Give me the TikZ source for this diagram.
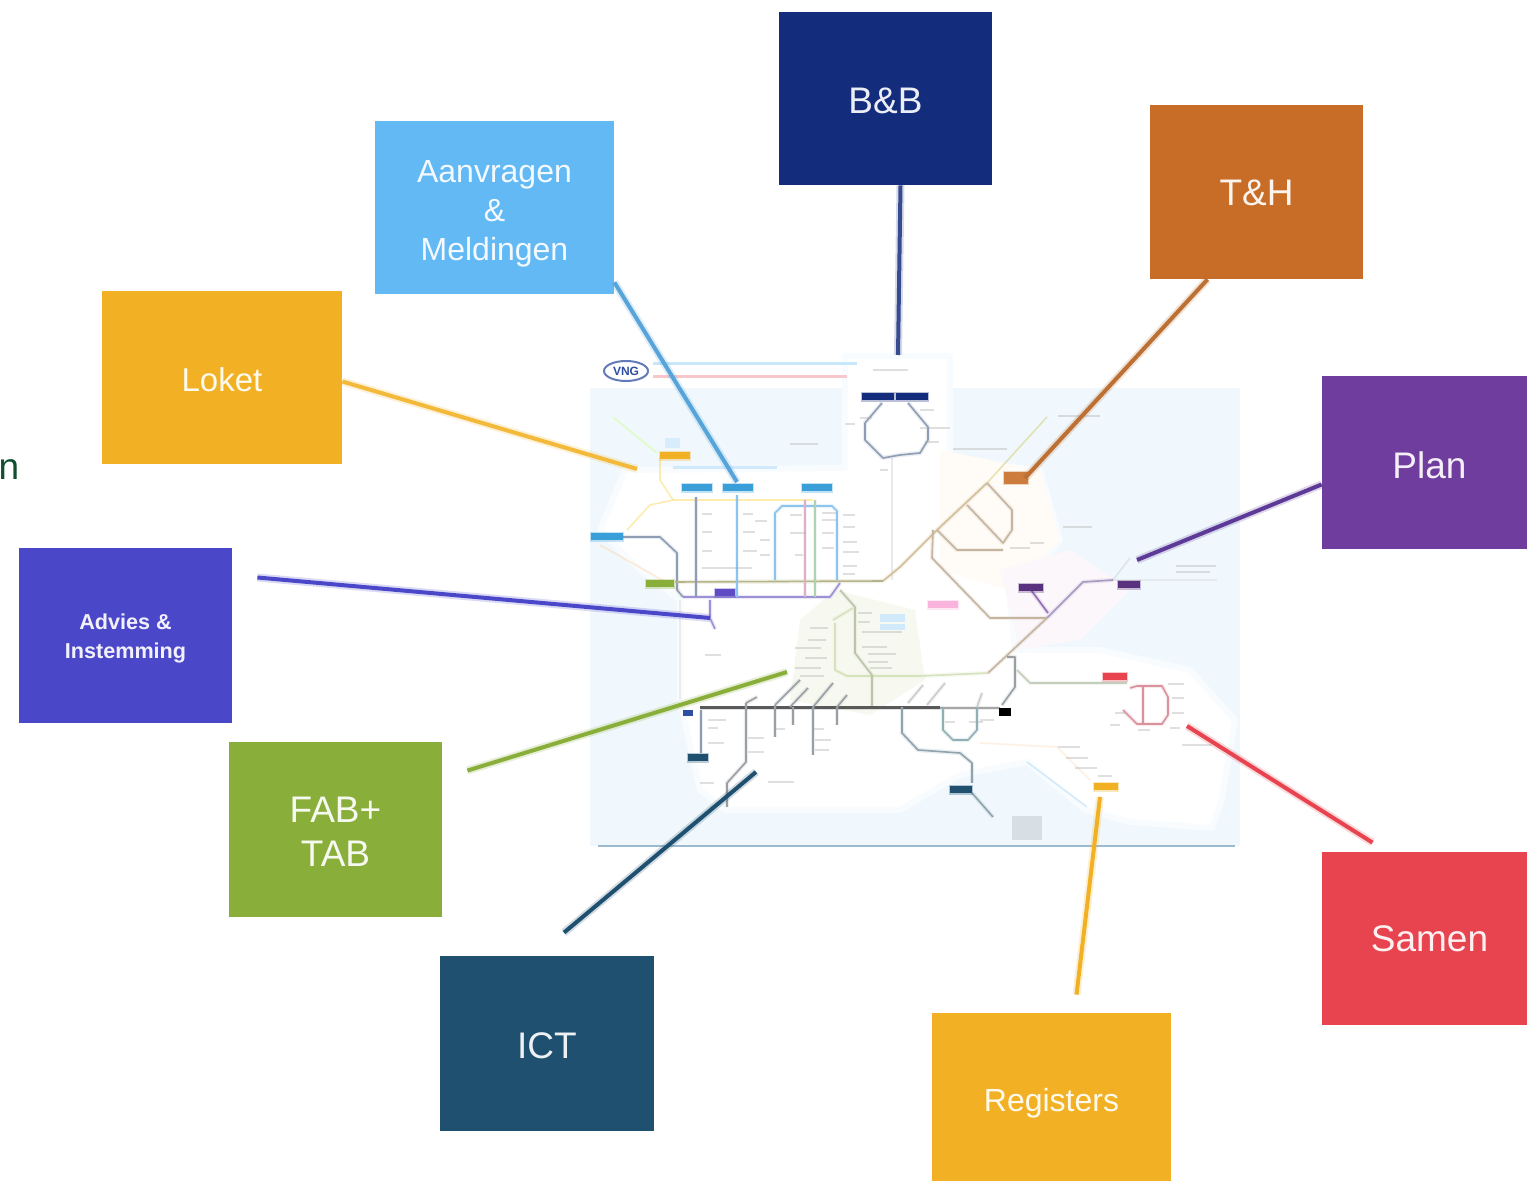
\documentclass[tikz,border=0pt]{standalone}
\usepackage{fontspec}
\setmainfont{Liberation Sans}
\usetikzlibrary{calc,shapes.geometric}
\definecolor{cBB}{HTML}{142C7C}
\definecolor{cTH}{HTML}{C76D27}
\definecolor{cAM}{HTML}{63B9F4}
\definecolor{cLO}{HTML}{F2B124}
\definecolor{cPL}{HTML}{6F3D9E}
\definecolor{cAI}{HTML}{4B47C9}
\definecolor{cFA}{HTML}{8AAE3A}
\definecolor{cIC}{HTML}{20506F}
\definecolor{cSA}{HTML}{E8444F}
\definecolor{cSea}{HTML}{F0F8FD}
\definecolor{cNavyLn}{HTML}{2F4FA0}
\definecolor{cBar}{HTML}{3A9FD8}
\definecolor{cVio}{HTML}{5D4CC4}
\definecolor{rVio}{HTML}{9C90D6}
\definecolor{rBlue}{HTML}{8CC4EE}
\definecolor{rGrayB}{HTML}{8E9DB4}
\definecolor{rPink}{HTML}{DDB0C8}
\definecolor{rGreen}{HTML}{AFD2B0}
\definecolor{rOlive}{HTML}{B4B488}
\definecolor{rTan}{HTML}{D2BE98}
\definecolor{rBrown}{HTML}{C4B4A0}
\definecolor{rLime}{HTML}{D6E2BC}
\definecolor{rSage}{HTML}{C3CFBC}
\definecolor{rMauve}{HTML}{A69AC0}
\definecolor{rRose}{HTML}{DA939D}
\definecolor{rTeal}{HTML}{8FB0B4}
\definecolor{rSlate}{HTML}{8FA3AE}
\definecolor{rGray}{HTML}{9A9FA3}
\tikzset{
  tilebox/.style={fill=#1,draw=none,text=white!92!#1,align=center,inner sep=0pt,font=\fontsize{18.5}{22}\selectfont},
  link/.style={draw=#1,line width=2pt,preaction={draw=#1,line width=4pt,opacity=.2}},
  rail/.style={draw=#1,line width=.8pt,line join=round,preaction={draw=#1,line width=2.2pt,opacity=.18,line join=round}},
  faint/.style={draw=#1,line width=.8pt,line join=round,opacity=.45},
  mbar/.style={fill=#1,draw=none,preaction={draw=#1,line width=1.4pt,opacity=.3}},
  tick/.style={draw=gray!70,line width=.7pt,opacity=.35}
}
\newcommand{\sbar}[4]{\fill[mbar=#4] (#1-#3/2,#2-3.5) rectangle (#1+#3/2,#2+3.5);}
\newcommand{\lift}[1]{\rule{0pt}{#1pt}}
\begin{document}
\begin{tikzpicture}[x=.5pt,y=-.5pt]
\useasboundingbox (0,0) rectangle (1527,1181);
\fill[white] (0,0) rectangle (1527,1181);

% map ground
\fill[cSea] (590,388) rectangle (1240,846);
\fill[white,draw=white!55!cSea,line width=3pt,line join=round] (625,470) -- (845,468) -- (845,356) -- (950,356) -- (950,460) -- (1040,470) -- (1060,540)
  -- (1010,600) -- (1015,650) -- (1100,650) -- (1190,670) -- (1235,720) -- (1222,800) -- (1212,828)
  -- (1130,822) -- (1085,810) -- (1027,762) -- (960,775) -- (900,810) -- (725,810) -- (700,790)
  -- (680,700) -- (680,600) -- (640,570) -- (600,530) -- cycle;
\fill[orange!3] (940,450) -- (1040,470) -- (1060,540) -- (1010,590) -- (940,570) -- cycle;
\fill[violet!3] (1000,570) -- (1070,550) -- (1130,590) -- (1080,640) -- (1020,650) -- cycle;
\fill[rLime!20] (835,590) -- (915,610) -- (925,680) -- (870,715) -- (790,700) -- (800,620) -- cycle;

% header
\node[draw=cNavyLn!75,line width=1pt,ellipse,minimum width=22pt,minimum height=10pt,inner sep=0pt,font=\bfseries\fontsize{6}{7}\selectfont,text=cNavyLn] (vng) at (626,371) {VNG};
\fill[cAM!35] (653,362.5) rectangle (857,365.5);
\fill[cSA!30] (653,375.5) rectangle (847,378.5);
\fill[cAM!30] (673,466.5) rectangle (777,469.5);

% pale lines
\draw[faint=yellow!60!orange!70] (673,500) -- (813,500);
\draw[faint=yellow!60!orange!70] (660,457) -- (660,480) -- (673,500) -- (650,505) -- (627,530);
\draw[faint=green!40!yellow!50] (613,417) -- (657,453);
\draw[faint=gray!35] (892,458) -- (892,580);
\draw[faint=orange!35] (600,545) -- (680,590);
\draw[faint=gray!30] (680,600) -- (680,700);
\draw[faint=cAM!60] (1027,762) -- (1087,807);
\draw[faint=gray!30] (1113,580) -- (1217,580);
\draw[faint=gray!40] (1113,580) -- (1130,558);
\draw[faint=orange!25] (980,743) -- (1057,747) -- (1090,780);

% north-west network
\draw[rail=rGrayB] (623,537) -- (660,537) -- (677,553) -- (677,590) -- (683,597);
\draw[rail=rVio] (683,597) -- (830,597) -- (840,583);
\draw[rail=rOlive] (675,582) -- (883,581);
\draw[rail=rGrayB] (696,497) -- (696,597);
\draw[rail=rBlue] (737,495) -- (737,597);
\draw[rail=rBlue] (775,580) -- (775,513) -- (782,506) -- (832,506) -- (837,511) -- (837,580);
\draw[rail=rPink] (805,500) -- (805,597);
\draw[rail=rGreen] (815,500) -- (815,597);
\draw[rail=rVio] (710,600) -- (710,618) -- (715,629);
\draw[rail=rGrayB] (882,403) -- (865,423) -- (865,440) -- (883,458) -- (900,455) -- (920,453) -- (928,440) -- (928,427) -- (908,403);

% T&H network
\draw[rail=rTan] (883,581) -- (900,567) -- (937,530) -- (987,483);
\draw[faint=gray!45!yellow] (987,483) -- (1047,417);
\draw[rail=rBrown] (987,483) -- (1012,510) -- (1012,530) -- (1003,543) -- (967,505);
\draw[rail=rBrown] (1003,550) -- (957,550) -- (937,530);
\draw[rail=rBrown] (933,530) -- (932,558) -- (990,618) -- (1047,618);
\draw[rail=rMauve] (1047,618) -- (1083,582) -- (1113,580);
\draw[rail=cPL!75] (1031,590) -- (1048,613);
\draw[rail=rBrown] (1047,618) -- (988,673);
\draw[rail=rLime] (988,673) -- (920,676) -- (847,676) -- (835,670) -- (835,623);
\draw[rail=rLime!70!gray] (840,590) -- (855,607) -- (855,653) -- (872,675) -- (872,707);
\draw[rail=rLime] (833,620) -- (853,608);

% south network
\draw[rail=gray!70!black,line width=1.5pt] (700,708) -- (940,708);
\draw[rail=gray!70] (940,708) -- (1000,708);
\draw[rail=rGray] (1002,705) -- (1015,687) -- (1015,657) -- (1007,657);
\draw[rail=rSage] (1017,670) -- (1030,683) -- (1127,683);
\draw[rail=rGrayB] (701,710) -- (701,753);
\draw[rail=rGray] (746,703) -- (746,762) -- (727,783) -- (727,807);
\draw[rail=rGray] (775,705) -- (800,680);
\draw[rail=rGray] (775,705) -- (775,737);
\draw[rail=rGray] (790,707) -- (808,688);
\draw[rail=rGray] (793,707) -- (793,725);
\draw[rail=rGray] (813,707) -- (833,683);
\draw[rail=rGray] (813,707) -- (813,755);
\draw[rail=rGray] (837,707) -- (847,695);
\draw[rail=rGray] (837,707) -- (837,725);
\draw[rail=rGray] (746,703) -- (757,697);
\draw[rail=rSlate] (902,707) -- (902,733) -- (918,750) -- (960,753) -- (972,763) -- (972,783);
\draw[rail=rSlate] (972,793) -- (993,817);
\draw[rail=rTeal] (943,707) -- (943,730) -- (953,740) -- (968,740) -- (977,730) -- (977,707);
\draw[rail=gray!40] (923,685) -- (908,703);
\draw[rail=gray!40] (945,683) -- (927,705);
\draw[rail=gray!40] (982,693) -- (977,707);
% red loop
\draw[rail=rRose] (1130,688) -- (1137,686) -- (1162,686) -- (1168,697) -- (1168,715) -- (1162,724) -- (1137,724) -- (1123,710);
\draw[rail=rRose] (1143,687) -- (1143,724);

% map bars
\sbar{697}{488}{30}{cBar}
\sbar{738}{488}{30}{cBar}
\sbar{817}{488}{30}{cBar}
\sbar{607}{537}{32}{cBar}
\sbar{878}{397}{32}{cBB}
\sbar{912}{397}{32}{cBB}
\sbar{675}{456}{30}{cLO}
\sbar{660}{584}{28}{cFA}
\sbar{725}{593}{20}{cVio}
\sbar{1031}{588}{24}{cPL!80!black}
\sbar{1129}{585}{22}{cPL!80!black}
\sbar{943}{605}{30}{magenta!30}
\sbar{698}{758}{20}{cIC}
\sbar{961}{790}{22}{cIC}
\sbar{1115}{677}{24}{cSA}
\sbar{1106}{787}{24}{cLO}
\fill[mbar=cTH!90] (1004,472) rectangle (1028,484);
\fill[black] (999,708) rectangle (1011,716);
\fill[cNavyLn] (683,710) rectangle (693,716);
\fill[cAM!25] (665,438) rectangle (680,448);
\fill[cIC!18] (1012,816) rectangle (1042,840);
\fill[cAM!30] (880,614) rectangle (905,622);
\fill[cAM!30] (880,624) rectangle (905,630);
\draw[cAM!50!gray!70,line width=.6pt] (598,846) -- (1235,846);

% tiny label marks
\foreach \xa/\ya/\w in {953/449/54,1063/527/29,1058/416/42,1182/745/30,1176/566/40,1176/572/34,
  790/444/28,873/370/35,860/418/12,845/424/10,880/470/8,
  702/514/10,702/532/10,702/551/10,702/568/50,743/514/10,743/532/12,743/551/14,
  755/521/12,760/540/10,760/555/10,
  790/515/12,790/533/16,795/555/8,822/513/14,822/520/14,822/533/12,822/548/12,
  843/515/12,843/527/12,843/542/14,843/552/16,843/566/14,843/574/12,
  810/628/18,808/640/18,795/648/26,805/658/22,795/668/26,800/676/24,
  858/613/14,858/622/12,862/632/40,862/647/25,868/654/28,868/662/20,870/668/22,
  708/720/18,708/728/10,708/743/16,748/738/16,748/752/16,
  775/729/10,812/729/12,815/740/16,815/750/14,
  700/783/14,768/782/26,705/655/16,
  1058/747/22,1066/758/22,1075/768/22,1098/776/14,
  969/722/14,980/720/14,945/722/10,
  1168/684/16,1172/698/12,1172/713/12,1115/713/10,1110/725/10,1138/730/12,1170/728/10,
  920/410/14,920/428/30,925/442/14,1030/543/14,1010/548/20}
  \draw[tick] (\xa,\ya) -- ++(\w,0);

% boxes
\node[tilebox=cBB,minimum width=106.5pt,minimum height=86.5pt] (bb) at (885.5,98.5) {\lift{15}B\&B};
\node[tilebox=cTH,minimum width=106.5pt,minimum height=87pt] (th) at (1256.5,192) {\lift{14}T\&H};
\node[tilebox=cAM,minimum width=119.5pt,minimum height=86.5pt,font=\fontsize{16}{19.5}\selectfont] (am) at (494.5,207.5) {\lift{17.7}Aanvragen\\\&\\Meldingen};
\node[tilebox=cLO,minimum width=120pt,minimum height=86.5pt,font=\fontsize{16.5}{20}\selectfont] (loket) at (222,377.5) {\lift{14}Loket};
\node[tilebox=cPL,minimum width=102.5pt,minimum height=86.5pt] (plan) at (1424.5,462.5) {\hspace*{5pt}\lift{16}Plan};
\node[tilebox=cAI,minimum width=106.5pt,minimum height=87.5pt,font=\bfseries\fontsize{10.8}{14.5}\selectfont] (advies) at (125.5,635.5) {\lift{11.2}Advies \&\\Instemming};
\node[tilebox=cFA,minimum width=106.5pt,minimum height=87.5pt] (fab) at (335.5,829.5) {\lift{15}FAB+\\TAB};
\node[tilebox=cIC,minimum width=107pt,minimum height=87.5pt] (ict) at (547,1043.5) {\lift{15}ICT};
\node[tilebox=cLO,minimum width=119.5pt,minimum height=84pt,font=\fontsize{16}{19}\selectfont] (reg) at (1051.5,1097) {\lift{17.7}Registers};
\node[tilebox=cSA,minimum width=102.5pt,minimum height=86.5pt] (samen) at (1424.5,938.5) {\hspace*{5pt}Samen};
\node[text=cIC!70!green!60!black,inner sep=0pt,font=\fontsize{18.5}{22}\selectfont] (frag) at (9,470) {n};

% free ends
\coordinate (eLoket) at (637,469);
\coordinate (eAm) at (737,482);
\coordinate (eBb) at (898,355);
\coordinate (eTh) at (1025,478);
\coordinate (ePlan) at (1137,560);
\coordinate (eAdvies) at (710,618);
\coordinate (eFab) at (787,672);
\coordinate (eIct) at (756,772);
\coordinate (eReg) at (1100,797);
\coordinate (eSamen) at (1187,726);

% connectors
\draw[link=cLO!90!white] ($(loket.east)+(0,4)$) -- (eLoket);
\draw[link=cAM!80!cIC] ($(am.south east)+(0,-12)$) -- (eAm);
\draw[link=cBB!85!white] ($(bb.south)+(15,0)$) -- (eBb);
\draw[link=cTH!85!gray] ($(th.south)+(-49,0)$) -- (eTh);
\draw[link=cPL!80!cBB] ($(plan.west)+(0,22)$) -- (ePlan);
\draw[link=cAI] ($(advies.east)+(25,-58)$) -- (eAdvies);
\draw[link=cFA] ($(fab.north east)+(25,29)$) -- (eFab);
\draw[link=cIC] ($(ict.north)+(17,-23)$) -- (eIct);
\draw[link=cLO] ($(reg.north)+(25,-18)$) -- (eReg);
\draw[link=cSA] ($(samen.north)+(-52,-9)$) -- (eSamen);
\end{tikzpicture}
\end{document}
